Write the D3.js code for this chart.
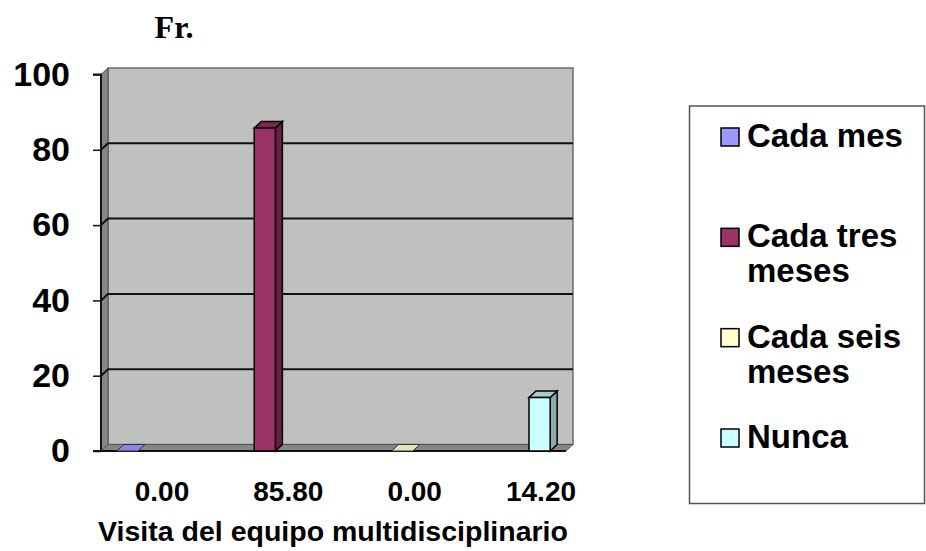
<!DOCTYPE html>
<html>
<head>
<meta charset="utf-8">
<script src="https://d3js.org/d3.v7.min.js"></script>
<style>
  body { margin: 0; background: #fff; }
  svg { display: block; }
  .tick-label { font-family: "Liberation Sans", Arial, sans-serif; font-weight: bold; }
</style>
</head>
<body>
<div id="chart"></div>
<script>
const series = ['Cada mes', 'Cada tres meses', 'Cada seis meses', 'Nunca']
const categoryLabels = ['0.00', '85.80', '0.00', '14.20']
// each category carries only its own series (diagonal table)
const values = [0, 85.8, 0, 14.2]
const yTicks = [0, 20, 40, 60, 80, 100]
const seriesColors = ['#9999FF', '#993366', '#FFFFCC', '#CCFFFF']

const W = 926, H = 551
const svg = d3.select('#chart').append('svg')
  .attr('width', W)
  .attr('height', H)

// plot frame (front face) and 3d depth
const m = {l: 101, r: 566, t: 74.5, b: 451}
const dx = 7, dy = -6.5

const y = d3.scaleLinear().domain([0, 100]).range([m.b, m.t])
const x = d3.scaleBand().domain(d3.range(categoryLabels.length)).range([m.l, m.r])
const gap = x.bandwidth() * 1.5 / 5.5
const xs = d3.scaleBand().domain(d3.range(series.length)).range([gap / 2, x.bandwidth() - gap / 2])
const color = d3.scaleOrdinal().domain(series).range(seriesColors)
const xLab = d3.scalePoint().domain(d3.range(categoryLabels.length)).range([162, 541])

const poly = pts => 'M' + pts.map(p => p.join(',')).join('L') + 'Z'

const walls = svg.append('g')
// back wall
walls.append('path')
  .attr('d', poly([[m.l + dx, y(100) + dy], [m.r + dx, y(100) + dy], [m.r + dx, m.b + dy], [m.l + dx, m.b + dy]]))
  .style('fill', '#C0C0C0').style('stroke', '#6e6e6e').style('stroke-width', 1.5)
// left wall
walls.append('path')
  .attr('d', poly([[m.l, y(100)], [m.l + dx, y(100) + dy], [m.l + dx, m.b + dy], [m.l, m.b]]))
  .style('fill', '#868686').style('stroke', '#555').style('stroke-width', 1)
// floor
walls.append('path')
  .attr('d', poly([[m.l, m.b], [m.l + dx, m.b + dy], [m.r + dx, m.b + dy], [m.r, m.b]]))
  .style('fill', '#868686').style('stroke', '#555').style('stroke-width', 1)

// gridlines
svg.append('g').selectAll('path')
  .data(yTicks.filter(d => d > 0 && d < 100))
  .join('path')
  .attr('d', d => 'M' + m.l + ',' + y(d) + 'L' + (m.l + dx) + ',' + (y(d) + dy) + 'L' + (m.r + dx) + ',' + (y(d) + dy))
  .style('fill', 'none').style('stroke', '#111').style('stroke-width', 2)

// y axis
const yAxis = svg.append('g').attr('transform', 'translate(' + m.l + ',0)')
  .call(d3.axisLeft(y).tickValues(yTicks).tickSize(8).tickPadding(23).tickFormat(d3.format('d')))
yAxis.select('.domain').style('stroke', '#111').style('stroke-width', 2).attr('d', 'M-8,' + y(100) + 'H0V' + m.b)
yAxis.selectAll('.tick line').style('stroke', '#111').style('stroke-width', 1.5)
yAxis.selectAll('.tick text')
  .attr('class', 'tick-label')
  .style('font-size', '34px').style('fill', '#000')

// bottom edge
svg.append('line')
  .attr('x1', m.l - 8).attr('x2', m.r).attr('y1', m.b).attr('y2', m.b)
  .style('stroke', '#111').style('stroke-width', 2)

// 3d bars
const bars = svg.append('g').selectAll('g')
  .data(values.map((v, i) => ({cat: i, s: i, v: v})))
  .join('g')
bars.each(function(d) {
  const g = d3.select(this)
  const x0 = x(d.cat) + xs(d.s), w = xs.bandwidth()
  const y0 = y(d.v)
  const c = d3.color(color(series[d.s]))
  if (d.v > 0) {
    g.append('path')
      .attr('d', poly([[x0 + w, y0], [x0 + w + dx, y0 + dy], [x0 + w + dx, m.b + dy], [x0 + w, m.b]]))
      .style('fill', c.darker(1.1)).style('stroke', '#000').style('stroke-width', 1.5)
    g.append('path')
      .attr('d', poly([[x0, y0], [x0 + dx, y0 + dy], [x0 + w + dx, y0 + dy], [x0 + w, y0]]))
      .style('fill', c.darker(0.6)).style('stroke', '#000').style('stroke-width', 1.5)
    g.append('rect')
      .attr('x', x0).attr('y', y0).attr('width', w).attr('height', m.b - y0)
      .style('fill', c).style('stroke', '#000').style('stroke-width', 1.5)
  } else {
    g.append('path')
      .attr('d', poly([[x0, m.b], [x0 + dx, m.b + dy], [x0 + w + dx, m.b + dy], [x0 + w, m.b]]))
      .style('fill', c.darker(0.3)).style('stroke', '#333').style('stroke-width', 1)
  }
})

// category labels
svg.append('g').selectAll('text')
  .data(categoryLabels)
  .join('text')
  .attr('class', 'tick-label')
  .attr('x', (d, i) => xLab(i))
  .attr('y', 501)
  .attr('text-anchor', 'middle')
  .style('font-size', '28px')
  .text(d => d)

// axis title
svg.append('text')
  .attr('class', 'tick-label')
  .attr('x', 333).attr('y', 541)
  .attr('text-anchor', 'middle')
  .style('font-size', '28.5px')
  .text('Visita del equipo multidisciplinario')

// chart title
svg.append('text')
  .attr('x', 174).attr('y', 38)
  .attr('text-anchor', 'middle')
  .style('font-family', '"Liberation Serif", "Times New Roman", serif')
  .style('font-weight', 'bold')
  .style('font-size', '32px')
  .text('Fr.')

// legend
svg.append('rect')
  .attr('x', 689.5).attr('y', 106).attr('width', 235).attr('height', 397.5)
  .style('fill', '#fff').style('stroke', '#555').style('stroke-width', 1.5)

const ly = d3.scalePoint().domain(series).range([147, 448])
const leg = svg.append('g').selectAll('g')
  .data(series)
  .join('g')
leg.append('rect')
  .attr('x', 721).attr('y', d => ly(d) - 19)
  .attr('width', 18).attr('height', 18)
  .style('fill', d => color(d)).style('stroke', '#000').style('stroke-width', 1.5)
leg.append('text')
  .attr('class', 'tick-label')
  .attr('x', 747).attr('y', d => ly(d))
  .style('font-size', '33px')
  .each(function(d) {
    // wrap words to the legend width
    const t = d3.select(this)
    const words = d.split(' ')
    let line = []
    let ts = t.append('tspan').attr('x', 747).attr('dy', 0)
    words.forEach(wd => {
      line.push(wd)
      ts.text(line.join(' '))
      if (ts.node().getComputedTextLength() > 172 && line.length > 1) {
        line.pop()
        ts.text(line.join(' '))
        line = [wd]
        ts = t.append('tspan').attr('x', 747).attr('dy', 35).text(wd)
      }
    })
  })
</script>
</body>
</html>
